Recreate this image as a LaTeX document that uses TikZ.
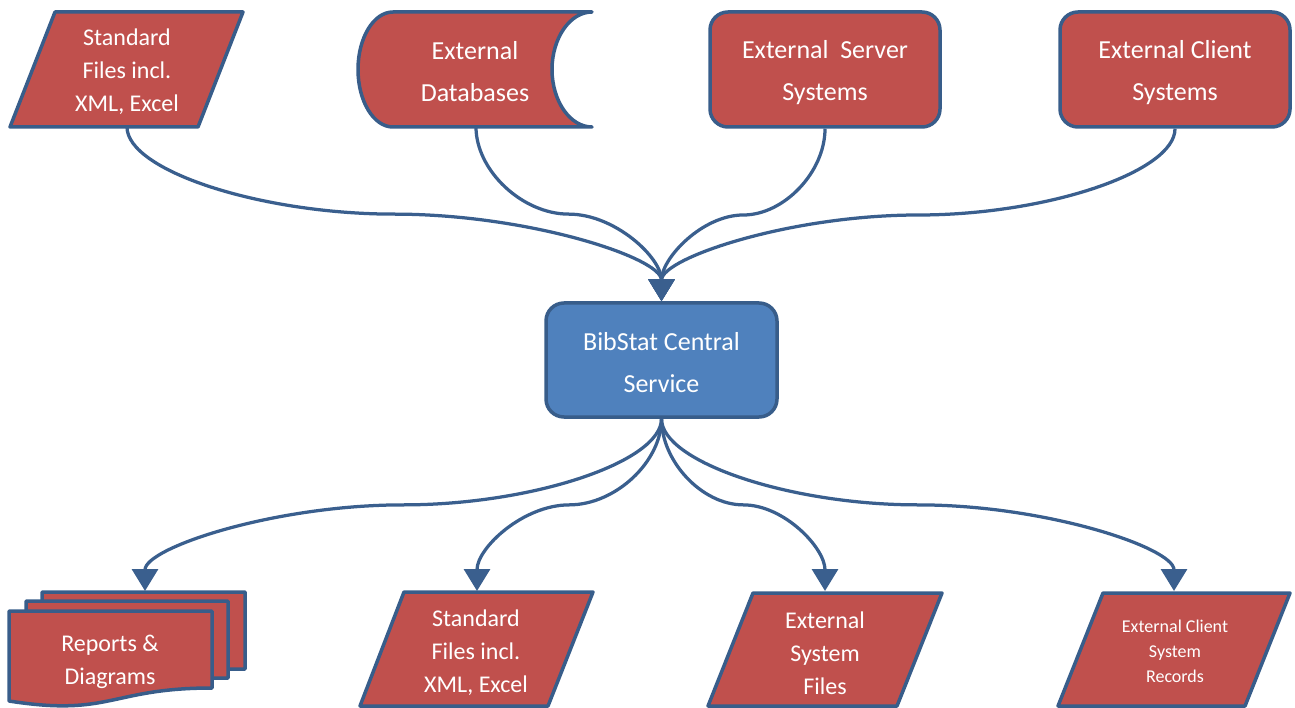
\documentclass[tikz,border=0pt]{standalone}
\usepackage{fontspec}
\setmainfont{Carlito}
\usetikzlibrary{arrows.meta,calc}
\definecolor{boxred}{HTML}{C0504D}
\definecolor{boxline}{HTML}{385D8A}
\definecolor{boxblue}{HTML}{4F81BD}
\definecolor{arrowc}{HTML}{3A5F8E}
\newcommand\fsBig{\fontsize{26}{42}\selectfont}
\newcommand\fsMid{\fontsize{24}{33}\selectfont}
\newcommand\fsSmall{\fontsize{18}{25}\selectfont}
% Office-style curved connector (vertical, 50% adjust)
\newcommand\curveconn[2]{%
  \draw[conn] let \p1=(#1), \p2=(#2) in
    (\p1) .. controls (\x1, {(3*\y1+\y2)/4}) and ({(3*\x1+\x2)/4}, {(\y1+\y2)/2})
    .. ({(\x1+\x2)/2}, {(\y1+\y2)/2})
    .. controls ({(\x1+3*\x2)/4}, {(\y1+\y2)/2}) and (\x2, {(\y1+3*\y2)/4}) .. (\p2);}
\begin{document}
\begin{tikzpicture}[x=1pt,y=-1pt,
  shapebox/.style={fill=boxred, draw=boxline, line width=3.5pt, line join=round},
  txt/.style={text=white, align=center, inner sep=0pt},
  roundbox/.style={shapebox, rounded corners=18pt, minimum width=230pt, minimum height=115pt, inner sep=0pt},
  conn/.style={draw=arrowc, line width=3.25pt, -{Triangle[width=26pt,length=22pt]}}
]
\useasboundingbox (0,0) rectangle (1295,708);

% ---------- top row ----------
\draw[shapebox] (55,12) -- (243,12) -- (198,127) -- (10,127) -- cycle;
\node[txt,font=\fsMid] (sfin) at (127,72) {Standard\\Files incl.\\XML, Excel};
\coordinate (sfinS) at (127,127);

\draw[shapebox] (393,12) -- (592,12)
  .. controls (570,12) and (552,38) .. (552,69.5)
  .. controls (552,101) and (570,127) .. (592,127)
  -- (393,127)
  .. controls (373.5,127) and (358,101) .. (358,69.5)
  .. controls (358,38) and (373.5,12) .. (393,12) -- cycle;
\node[txt,font=\fsBig] (db) at (475,72) {External\\Databases};
\coordinate (dbS) at (476,127);

\node[roundbox] (srv) at (825,69.5) {};
\node[txt,font=\fsBig] (srvt) at (825,72.5) {External~~Server\\Systems};
\node[roundbox] (cli) at (1175,69.5) {};
\node[txt,font=\fsBig] (clit) at (1175,72.5) {External Client\\Systems};

% ---------- centre ----------
\node[roundbox, fill=boxblue, minimum width=231pt, minimum height=114pt] (bib) at (661.5,360) {};
\node[txt,font=\fsBig] (bibt) at (661.5,363) {BibStat Central\\Service};

% ---------- bottom row ----------
\draw[shapebox] (42,592) -- (245,592) -- (245,669)
  .. controls (143.5,669) and (143.5,698) .. (42,682) -- cycle;
\draw[shapebox] (26,601) -- (228,601) -- (228,678)
  .. controls (127,678) and (127,707) .. (26,691) -- cycle;
\draw[shapebox] (9,611) -- (212,611) -- (212,688)
  .. controls (110.5,688) and (110.5,717) .. (9,701) -- cycle;
\node[txt,font=\fsMid] (rep) at (110,662) {Reports \&\\Diagrams};
\coordinate (repN) at (145,591);

\draw[shapebox] (404,592) -- (593,592) -- (548,706) -- (360,706) -- cycle;
\node[txt,font=\fsMid] (sfout) at (476,653) {Standard\\Files incl.\\XML, Excel};
\coordinate (sfoutN) at (477,591);

\draw[shapebox] (753,593) -- (942,593) -- (897,706) -- (708,706) -- cycle;
\node[txt,font=\fsMid] (esf) at (825,653) {External\\System\\Files};
\coordinate (esfN) at (825,591);

\draw[shapebox] (1103,593) -- (1290,593) -- (1245,706) -- (1058,706) -- cycle;
\node[txt,font=\fsSmall] (ecr) at (1175,651) {External Client\\System\\Records};
\coordinate (ecrN) at (1174,591);

% ---------- connectors ----------
\curveconn{sfinS}{bib.north}
\curveconn{dbS}{bib.north}
\curveconn{srv.south}{bib.north}
\curveconn{cli.south}{bib.north}

\curveconn{bib.south}{repN}
\curveconn{bib.south}{sfoutN}
\curveconn{bib.south}{esfN}
\curveconn{bib.south}{ecrN}
\end{tikzpicture}
\end{document}
